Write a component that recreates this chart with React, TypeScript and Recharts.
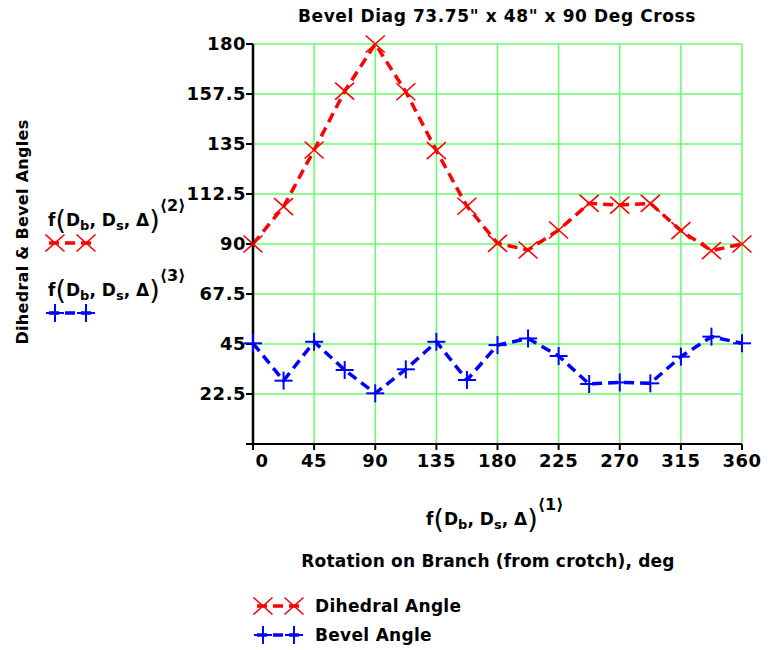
import React from 'react'
import { LineChart, Line, XAxis, YAxis, CartesianGrid } from 'recharts'

const rotation = [0, 22.5, 45, 67.5, 90, 112.5, 135, 157.5, 180, 202.5, 225, 247.5, 270, 292.5, 315, 337.5, 360]
const dihedral = [90, 106.8, 132.3, 158.8, 180, 158.5, 132, 107, 90.3, 87.3, 96.3, 108.3, 107.5, 108.3, 96, 87, 90]
const bevel = [45.3, 28.5, 46, 33.3, 22.8, 33.6, 46, 28.8, 44.5, 47.5, 39.6, 27, 27.7, 27.3, 39.3, 48.3, 45.3]
const xTicks = [0, 45, 90, 135, 180, 225, 270, 315, 360]
const yTicks = [0, 22.5, 45, 67.5, 90, 112.5, 135, 157.5, 180]

const data = rotation.map((r, i) => ({ rot: r, dihedral: dihedral[i], bevel: bevel[i] }))

const font = "'Comic Sans MS', 'DejaVu Sans', sans-serif"
const RED = '#ff0000'
const BLUE = '#0000ff'
const GRID = '#66ff66'

function XMark({ cx, cy, color = RED }: { cx: number; cy: number; color?: string }) {
  const w = 9.5
  const h = 8.5
  return (
    <g stroke={color} strokeWidth={1.6}>
      <line x1={cx - w} y1={cy - h} x2={cx + w} y2={cy + h} />
      <line x1={cx - w} y1={cy + h} x2={cx + w} y2={cy - h} />
    </g>
  )
}

function PlusMark({ cx, cy, color = BLUE }: { cx: number; cy: number; color?: string }) {
  const s = 9
  return (
    <g stroke={color} strokeWidth={2}>
      <line x1={cx - s} y1={cy} x2={cx + s} y2={cy} />
      <line x1={cx} y1={cy - s} x2={cx} y2={cy + s} />
    </g>
  )
}

// little legend swatch: marker - dash - marker
function Swatch({ kind }: { kind: 'x' | 'plus' }) {
  const color = kind === 'x' ? RED : BLUE
  const Mark = kind === 'x' ? XMark : PlusMark
  return (
    <svg width={52} height={20} style={{ display: 'block' }}>
      <line x1={4} y1={10} x2={48} y2={10} stroke={color} strokeWidth={3.5} strokeDasharray="10 6" />
      <Mark cx={10} cy={10} color={color} />
      <Mark cx={41} cy={10} color={color} />
    </svg>
  )
}

function FLabel({ index, left, top }: { index: number; left: number; top: number }) {
  return (
    <div
      style={{
        position: 'absolute',
        left,
        top,
        fontFamily: font,
        fontWeight: 'bold',
        fontSize: 17,
        whiteSpace: 'nowrap',
        lineHeight: 1,
        color: '#000',
      }}
    >
      f<span style={{ fontSize: 27, fontWeight: 'normal', verticalAlign: '-3px' }}>(</span>D
      <sub style={{ fontSize: 13 }}>b</sub>, D<sub style={{ fontSize: 13 }}>s</sub>, Δ
      <span style={{ fontSize: 27, fontWeight: 'normal', verticalAlign: '-3px' }}>)</span>
      <sup style={{ fontSize: 16, position: 'relative', top: -8 }}>⟨{index}⟩</sup>
    </div>
  )
}

function XTick(props: any) {
  const { x, y, payload } = props
  const dx = payload.value === 0 ? 9 : 0
  return (
    <text
      x={x + dx}
      y={y}
      dy={15}
      textAnchor="middle"
      fontFamily={font}
      fontWeight="bold"
      fontSize={18}
      letterSpacing={0.5}
      fill="#000"
    >
      {payload.value}
    </text>
  )
}

export default function App() {
  return (
    <div style={{ position: 'absolute', left: 0, top: 0, width: 768, height: 650, background: '#fff' }}>
      <div
        style={{
          position: 'absolute',
          left: 0,
          width: 994,
          top: 6,
          textAlign: 'center',
          fontFamily: font,
          fontWeight: 'bold',
          fontSize: 17,
          letterSpacing: 0.6,
        }}
      >
        Bevel Diag 73.75" x 48" x 90 Deg Cross
      </div>

      <LineChart
        width={768}
        height={650}
        data={data}
        margin={{ top: 44, right: 26, left: 193, bottom: 176 }}
        style={{ position: 'absolute', left: 0, top: 0 }}
      >
        <CartesianGrid stroke={GRID} strokeWidth={1.5} />
        <XAxis
          dataKey="rot"
          type="number"
          domain={[0, 360]}
          ticks={xTicks}
          height={30}
          tick={<XTick />}
          tickSize={6}
          tickMargin={2}
          tickLine={{ stroke: '#000', strokeWidth: 2 }}
          axisLine={{ stroke: '#000', strokeWidth: 2 }}
        />
        <YAxis
          type="number"
          domain={[0, 180]}
          ticks={yTicks}
          width={60}
          tickSize={7}
          tickMargin={0}
          tickFormatter={(v: number) => (v === 0 ? '' : String(v))}
          tick={{ fontFamily: font, fontWeight: 'bold', fontSize: 18, letterSpacing: 0.5, fill: '#000' }}
          tickLine={{ stroke: '#000', strokeWidth: 2 }}
          axisLine={{ stroke: '#000', strokeWidth: 2.5 }}
        />
        <Line
          dataKey="dihedral"
          stroke={RED}
          strokeWidth={3.5}
          strokeDasharray="10 6"
          isAnimationActive={false}
          dot={(p: any) => <XMark key={`d-${p.index}`} cx={p.cx} cy={p.cy} />}
        />
        <Line
          dataKey="bevel"
          stroke={BLUE}
          strokeWidth={3.5}
          strokeDasharray="10 6"
          isAnimationActive={false}
          dot={(p: any) => <PlusMark key={`b-${p.index}`} cx={p.cx} cy={p.cy} />}
        />
      </LineChart>

      <div
        style={{
          position: 'absolute',
          left: 22,
          top: 232,
          transform: 'translate(-50%, -50%) rotate(-90deg)',
          fontFamily: font,
          fontWeight: 'bold',
          fontSize: 16,
          letterSpacing: 0.3,
          whiteSpace: 'nowrap',
        }}
      >
        Dihedral &amp; Bevel Angles
      </div>

      <FLabel index={2} left={48} top={206} />
      <div style={{ position: 'absolute', left: 45, top: 233 }}>
        <Swatch kind="x" />
      </div>
      <FLabel index={3} left={48} top={276} />
      <div style={{ position: 'absolute', left: 45, top: 303 }}>
        <Swatch kind="plus" />
      </div>

      <FLabel index={1} left={426} top={505} />

      <div
        style={{
          position: 'absolute',
          left: 200,
          width: 576,
          top: 551,
          textAlign: 'center',
          fontFamily: font,
          fontWeight: 'bold',
          fontSize: 17,
          letterSpacing: 0.2,
        }}
      >
        Rotation on Branch (from crotch), deg
      </div>

      <div style={{ position: 'absolute', left: 253, top: 595, fontFamily: font, fontWeight: 'bold', fontSize: 17 }}>
        <div style={{ display: 'flex', alignItems: 'center', height: 22 }}>
          <Swatch kind="x" />
          <span style={{ marginLeft: 10, letterSpacing: 0.3 }}>Dihedral Angle</span>
        </div>
        <div style={{ display: 'flex', alignItems: 'center', height: 22, marginTop: 7 }}>
          <Swatch kind="plus" />
          <span style={{ marginLeft: 10, letterSpacing: 0.3 }}>Bevel Angle</span>
        </div>
      </div>
    </div>
  )
}
